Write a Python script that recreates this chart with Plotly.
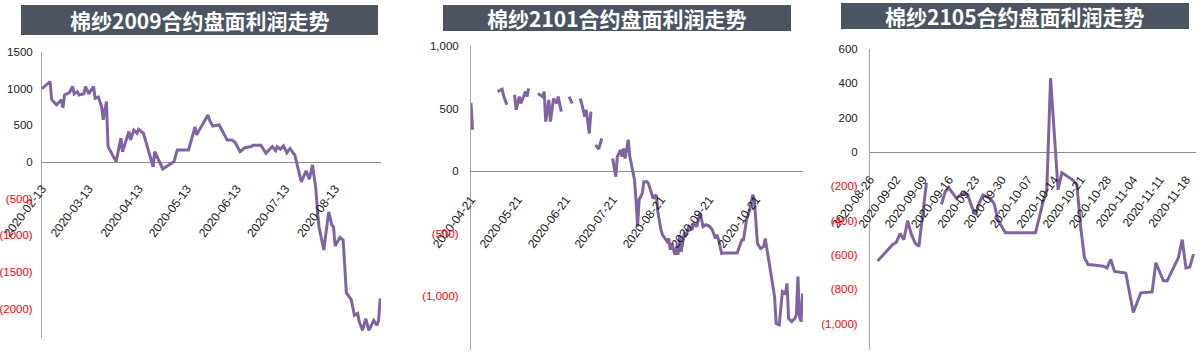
import plotly.graph_objects as go

# ---------------- data ----------------
titles = ["棉纱2009合约盘面利润走势", "棉纱2101合约盘面利润走势", "棉纱2105合约盘面利润走势"]

dates1 = ["2020-02-13","2020-02-18","2020-02-19","2020-02-22","2020-02-25","2020-02-26","2020-02-27","2020-03-01","2020-03-03","2020-03-04",
          "2020-03-06","2020-03-07","2020-03-10","2020-03-11","2020-03-13","2020-03-16","2020-03-17","2020-03-19","2020-03-21","2020-03-22",
          "2020-03-24","2020-03-25","2020-03-30","2020-04-02","2020-04-03","2020-04-07","2020-04-08","2020-04-10","2020-04-12","2020-04-13",
          "2020-04-16","2020-04-18","2020-04-22","2020-04-23","2020-04-28","2020-05-05","2020-05-07","2020-05-14","2020-05-18","2020-05-19",
          "2020-05-26","2020-05-27","2020-05-29","2020-06-02","2020-06-05","2020-06-07","2020-06-10","2020-06-12","2020-06-15","2020-06-18",
          "2020-06-22","2020-06-23","2020-06-28","2020-07-01","2020-07-05","2020-07-07","2020-07-08","2020-07-10","2020-07-12","2020-07-14",
          "2020-07-16","2020-07-19","2020-07-20","2020-07-23","2020-07-26","2020-07-28","2020-07-30","2020-08-01","2020-08-02","2020-08-03",
          "2020-08-06","2020-08-09","2020-08-11","2020-08-12","2020-08-13","2020-08-16","2020-08-18","2020-08-19","2020-08-20","2020-08-23",
          "2020-08-25","2020-08-27","2020-08-28","2020-08-30","2020-09-01","2020-09-03","2020-09-06","2020-09-08","2020-09-09","2020-09-10"]
vals1 = [1000, 1095, 850, 780, 850, 740, 915, 945, 1030, 930,
         960, 915, 930, 1030, 930, 1030, 870, 885, 755, 575,
         825, 210, 5, 325, 140, 415, 300, 435, 390, 445,
         390, 230, -65, 140, -95, 5, 165, 165, 480, 370,
         640, 575, 490, 505, 370, 300, 300, 265, 140, 195,
         210, 230, 230, 120, 210, 155, 210, 175, 220, 125,
         185, 95, 5, -270, -120, -235, -40, -360, -655, -885,
         -1200, -680, -860, -885, -1145, -1030, -1065, -1385, -1785, -1875,
         -2090, -2065, -2180, -2295, -2135, -2295, -2160, -2225, -2160, -1860]

dates2 = ["2020-04-21","2020-04-22","2020-04-30",
          "2020-05-08","2020-05-11","2020-05-12","2020-05-14","2020-05-16",
          "2020-05-19","2020-05-20","2020-05-22","2020-05-23","2020-05-26","2020-05-27","2020-05-28","2020-05-31",
          "2020-06-03","2020-06-06","2020-06-07","2020-06-08","2020-06-10","2020-06-11","2020-06-13","2020-06-15","2020-06-16","2020-06-18","2020-06-20",
          "2020-06-23","2020-06-25","2020-06-27",
          "2020-06-30","2020-07-01","2020-07-03","2020-07-04","2020-07-05","2020-07-06","2020-07-07","2020-07-08",
          "2020-07-10","2020-07-12","2020-07-14","2020-07-17",
          "2020-07-21","2020-07-23","2020-07-24","2020-07-26","2020-07-27","2020-07-28","2020-07-29","2020-07-31","2020-08-01","2020-08-03",
          "2020-08-04","2020-08-05","2020-08-06","2020-08-07","2020-08-09","2020-08-10","2020-08-12","2020-08-13","2020-08-15","2020-08-16",
          "2020-08-18","2020-08-19","2020-08-21","2020-08-22","2020-08-25","2020-08-26","2020-08-27","2020-08-28","2020-08-30","2020-08-31",
          "2020-09-01","2020-09-02","2020-09-03","2020-09-05","2020-09-06","2020-09-08","2020-09-10","2020-09-11","2020-09-13","2020-09-15",
          "2020-09-16","2020-09-17","2020-09-19","2020-09-21","2020-09-23","2020-09-25","2020-09-26","2020-09-27","2020-09-29","2020-10-01",
          "2020-10-09","2020-10-12","2020-10-13","2020-10-15","2020-10-17","2020-10-19","2020-10-20","2020-10-22","2020-10-24","2020-10-26",
          "2020-10-27","2020-10-28","2020-10-29","2020-10-31","2020-11-02","2020-11-03","2020-11-05","2020-11-07","2020-11-09","2020-11-10",
          "2020-11-11","2020-11-13","2020-11-15","2020-11-16","2020-11-17","2020-11-18","2020-11-19","2020-11-20"]
vals2 = [545, 330, None,
         635, 655, 600, 530, None,
         610, 490, 595, 540, 635, 595, 660, None,
         620, 595, 635, 395, 570, 395, 580, 540, 595, 475, None,
         595, 540, None,
         580, 545, 435, 490, 395, 300, 475, None,
         210, 175, 260, None,
         100, -45, 115, 170, 115, 180, 100, 250, 115, -20,
         -70, -230, -445, -230, -180, -85, -85, -100, -180, -220,
         -190, -325, -470, -510, -565, -540, -630, -580, -670, -605,
         -670, -510, -645, -500, -510, -445, -470, -420, -445, -340,
         -380, -445, -430, -440, -470, -540, -510, -550, -660, -655,
         -655, -550, -550, -390, -310, -190, -230, -580, -620, -605,
         -540, -620, -685, -870, -1005, -1220, -1230, -965, -980, -900,
         -1180, -1205, -1180, -1150, -845, -1165, -1205, -980]

dates3 = ["2020-08-28","2020-08-30","2020-09-01","2020-09-02","2020-09-03","2020-09-04","2020-09-05","2020-09-06","2020-09-07","2020-09-08",
          "2020-09-10","2020-09-12",
          "2020-09-14","2020-09-15","2020-09-16","2020-09-18","2020-09-19","2020-09-20","2020-09-21","2020-09-22","2020-09-23","2020-09-24",
          "2020-09-25","2020-09-27","2020-09-28","2020-09-29","2020-10-01","2020-10-09","2020-10-11","2020-10-12","2020-10-13","2020-10-15",
          "2020-10-16","2020-10-19","2020-10-20","2020-10-21","2020-10-22","2020-10-23","2020-10-25","2020-10-27","2020-10-28","2020-10-29",
          "2020-10-30","2020-11-02","2020-11-04","2020-11-06","2020-11-09","2020-11-10","2020-11-12","2020-11-13","2020-11-16","2020-11-17",
          "2020-11-18","2020-11-19","2020-11-20"]
vals3 = [-635, -590, -540, -525, -475, -510, -400, -480, -530, -550,
         -180, None,
         -305, -230, -210, -270, -250, -240, -250, -315, -365, -300,
         -250, -270, -300, -395, -470, -470, -290, -220, 430, -220,
         -120, -165, -190, -435, -615, -655, -660, -665, -675, -625,
         -695, -705, -935, -820, -815, -645, -750, -750, -615, -510,
         -675, -670, -595]

xticks1 = ["2020-02-13","2020-03-13","2020-04-13","2020-05-13","2020-06-13","2020-07-13","2020-08-13"]
xticks2 = ["2020-04-21","2020-05-21","2020-06-21","2020-07-21","2020-08-21","2020-09-21","2020-10-21"]
xticks3 = ["2020-08-26","2020-09-02","2020-09-09","2020-09-16","2020-09-23","2020-09-30","2020-10-07",
           "2020-10-14","2020-10-21","2020-10-28","2020-11-04","2020-11-11","2020-11-18"]

yticks1 = [1500, 1000, 500, 0, -500, -1000, -1500, -2000]
ylabels1 = ["1500", "1000", "500", "0", "(500)", "(1000)", "(1500)", "(2000)"]
yticks2 = [1000, 500, 0, -500, -1000]
ylabels2 = ["1,000", "500", "0", "(500)", "(1,000)"]
yticks3 = [600, 400, 200, 0, -200, -400, -600, -800, -1000]
ylabels3 = ["600", "400", "200", "0", "(200)", "(400)", "(600)", "(800)", "(1,000)"]

# ---------------- layout helpers ----------------
W, H = 1200, 354
def fx(px):
    return px / W
def fy(py):
    return 1 - py / H

LINE = "#8064A2"
FAMILY = "Liberation Sans Narrow, Liberation Sans, Arial, sans-serif"
XFONT = dict(family=FAMILY, size=12, color="#1a1a1a")
YFONT = dict(family=FAMILY, size=11.5, color="#1a1a1a")

panels = [
    dict(dates=dates1, vals=vals1, xdom=(42, 381), ydom=(52, 338), xr=["2020-02-13", "2020-09-10 12:00"],
         yr=[-2400, 1500], box=(21, 378, 5, 35), xt=xticks1, yt=yticks1, yl=ylabels1, gap=14, ygap=6),
    dict(dates=dates2, vals=vals2, xdom=(471, 803), ydom=(46, 350), xr=["2020-04-21", "2020-11-20 06:00"],
         yr=[-1432, 1000], box=(443, 791, 5, 31), xt=xticks2, yt=yticks2, yl=ylabels2, gap=16, ygap=9),
    dict(dates=dates3, vals=vals3, xdom=(870, 1196), ydom=(49, 350), xr=["2020-08-26", "2020-11-20 16:00"],
         yr=[-1153, 600], box=(841, 1189, 3, 29), xt=xticks3, yt=yticks3, yl=ylabels3, gap=15, ygap=9),
]

fig = go.Figure()
layout = dict(width=W, height=H, margin=dict(l=0, r=0, t=0, b=0), paper_bgcolor="white",
              plot_bgcolor="white", showlegend=False, shapes=[], annotations=[])

for i, p in enumerate(panels):
    n = "" if i == 0 else str(i + 1)
    fig.add_trace(go.Scatter(x=p["dates"], y=p["vals"], mode="lines",
                             line=dict(color=LINE, width=3), connectgaps=False,
                             xaxis="x" + n, yaxis="y" + n, hoverinfo="skip"))
    ydom = [fy(p["ydom"][1]), fy(p["ydom"][0])]
    y0, y1 = p["yr"]
    zero_pos = ydom[0] + (0 - y0) / (y1 - y0) * (ydom[1] - ydom[0])
    layout["xaxis" + n] = dict(
        domain=[fx(p["xdom"][0]), fx(p["xdom"][1])], range=p["xr"], type="date",
        anchor="free", position=zero_pos, tickmode="array", tickvals=p["xt"], ticktext=p["xt"],
        tickangle=-53, tickfont=XFONT, showgrid=False, showline=False, zeroline=False,
        ticks="outside", ticklen=p["gap"], tickcolor="rgba(0,0,0,0)", automargin=False, fixedrange=True)
    ticktext = []
    for v, lab in zip(p["yt"], p["yl"]):
        if v < 0:
            ticktext.append('<span style="color:#ff0000">%s</span>' % lab)
        else:
            ticktext.append(lab)
    layout["yaxis" + n] = dict(
        domain=ydom, range=p["yr"], anchor="x" + n, tickmode="array", tickvals=p["yt"], ticktext=ticktext,
        tickfont=YFONT, showgrid=False, showline=True, linecolor="#a6a6a6", linewidth=1,
        zeroline=True, zerolinecolor="#8c8c8c", zerolinewidth=1,
        ticks="outside", ticklen=p["ygap"], tickcolor="rgba(0,0,0,0)", automargin=False, fixedrange=True)
    bx0, bx1, by0, by1 = p["box"]
    layout["shapes"].append(dict(type="rect", xref="paper", yref="paper",
                                 x0=fx(bx0), x1=fx(bx1), y0=fy(by1), y1=fy(by0),
                                 fillcolor="#4B5460", line=dict(width=0), layer="above"))
    layout["annotations"].append(dict(xref="paper", yref="paper", x=fx((bx0 + bx1) / 2), y=fy((by0 + by1) / 2),
                                      xanchor="center", yanchor="middle", showarrow=False,
                                      text="<b>%s</b>" % titles[i],
                                      font=dict(family="Noto Sans CJK SC, sans-serif", size=21, color="white")))

fig.update_layout(**layout)
fig.write_html("out.html")
